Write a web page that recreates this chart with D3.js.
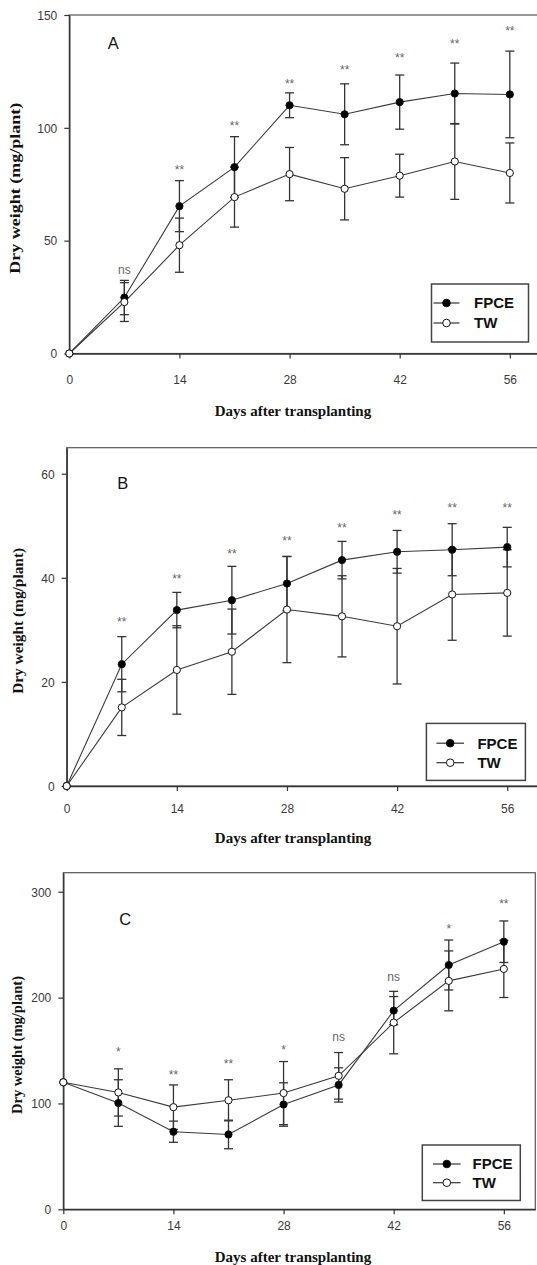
<!DOCTYPE html>
<html>
<head>
<meta charset="utf-8">
<script src="https://cdn.jsdelivr.net/npm/d3@7"></script>
<style>
  body { margin: 0; background: #fff; }
  svg text { font-family: "Liberation Sans", Arial, sans-serif; }
</style>
</head>
<body>
<svg id="chart" width="537" height="1265"></svg>
<script>
// days after transplanting, shared by all three panels
const days = [0, 7, 14, 21, 28, 35, 42, 49, 56];
const xTicks = [0, 14, 28, 42, 56];
const seriesNames = ["FPCE", "TW"];

// Panel A
const fpceA    = [0, 24.8, 65.3, 82.6, 110, 106, 111.4, 115.2, 114.8];
const fpceAErr = [0, 7.6, 11.3, 13.5, 5.5, 13.5, 12, 13.5, 19.2];
const twA      = [0, 22.8, 48, 69.3, 79.5, 73, 78.8, 85.1, 80];
const twAErr   = [0, 8.6, 12, 13.3, 11.8, 13.8, 9.5, 16.8, 13.3];
const sigA     = ["", "ns", "**", "**", "**", "**", "**", "**", "**"];
const sigAAt   = [null, 37, 83, 102.5, 121, 127, 132.5, 138.5, 144.4];
const yTicksA  = [0, 50, 100, 150];

// Panel B
const fpceB    = [0, 23.4, 33.8, 35.7, 38.9, 43.4, 45, 45.4, 45.9];
const fpceBErr = [0, 5.3, 3.4, 6.5, 5.2, 3.6, 4.1, 5, 3.8];
const twB      = [0, 15.1, 22.3, 25.8, 33.9, 32.6, 30.7, 36.8, 37.1];
const twBErr   = [0, 5.4, 8.5, 8.2, 10.2, 7.8, 11.1, 8.8, 8.3];
const sigB     = ["", "**", "**", "**", "**", "**", "**", "**", "**"];
const sigBAt   = [null, 32.2, 40.5, 45.3, 47.7, 50.2, 52.8, 54.1, 54.1];
const yTicksB  = [0, 20, 40, 60];

// Panel C
const fpceC    = [120, 100.4, 73.3, 70.7, 99, 117.5, 187.7, 230.8, 252.8];
const fpceCErr = [0, 22, 10, 13.5, 20.5, 16.2, 13.3, 23.6, 19.6];
const twC      = [120, 110.4, 96.5, 103, 109.8, 126.1, 176.4, 215.8, 227.1];
const twCErr   = [0, 22.3, 21, 19.4, 29.8, 22, 29.5, 28.3, 27];
const sigC     = ["", "*", "**", "**", "*", "ns", "ns", "*", "**"];
const sigCAt   = [null, 151.6, 130.2, 140.3, 153.8, 162.3, 218.9, 268, 291.2];
const yTicksC  = [0, 100, 200, 300];

// layout of each panel (pixels)
const panels = [
  { label: "A", fpce: fpceA, fpceErr: fpceAErr, tw: twA, twErr: twAErr, sig: sigA, sigAt: sigAAt,
    yTicks: yTicksA, yMax: 150, left: 69.3, top: 15, bottom: 353.5,
    letterX: 44, letterY: 28, legend: { x: 431.5, y: 284, w: 97, h: 58, row1: 19, row2: 39, l0: 2, l1: 28, t: 42.5 },
    tickDy: 29, titleDy: 57, yTitleX: 15, yTitleLen: 171 },
  { label: "B", fpce: fpceB, fpceErr: fpceBErr, tw: twB, twErr: twBErr, sig: sigB, sigAt: sigBAt,
    yTicks: yTicksB, yMax: 65, left: 66.7, top: 447.7, bottom: 786,
    letterX: 56, letterY: 35, legend: { x: 426.4, y: 723.4, w: 99, h: 57, row1: 19.8, row2: 39.3, l0: 10, l1: 37.6, t: 51 },
    tickDy: 25, titleDy: 52, yTitleX: 18, yTitleLen: 146 },
  { label: "C", fpce: fpceC, fpceErr: fpceCErr, tw: twC, twErr: twCErr, sig: sigC, sigAt: sigCAt,
    yTicks: yTicksC, yMax: 318, left: 63.3, top: 872.7, bottom: 1209.3,
    letterX: 62, letterY: 46, legend: { x: 422.3, y: 1145, w: 98, h: 55.5, row1: 19, row2: 37.7, l0: 10.7, l1: 38.3, t: 50.3 },
    tickDy: 19, titleDy: 47, yTitleX: 17, yTitleLen: 138 }
];

const plotWidth = 472;
const svg = d3.select("#chart");

function drawPanel(p) {
  const h = p.bottom - p.top;
  const g = svg.append("g").attr("transform", "translate(" + p.left + "," + p.top + ")");

  const x = d3.scaleLinear().domain([0, 60]).range([0, plotWidth]);
  const y = d3.scaleLinear().domain([0, p.yMax]).range([h, 0]);

  // frame (top + right)
  g.append("rect")
    .attr("x", 0).attr("y", 0).attr("width", plotWidth).attr("height", h)
    .attr("fill", "none").attr("stroke", "#555").attr("stroke-width", 1.2);

  // axes
  const xAxis = g.append("g")
    .attr("transform", "translate(0," + h + ")")
    .call(d3.axisBottom(x).tickValues(xTicks).tickSize(5).tickSizeOuter(0).tickPadding(p.tickDy - 12));
  const yAxis = g.append("g")
    .call(d3.axisLeft(y).tickValues(p.yTicks).tickSize(5).tickSizeOuter(0).tickPadding(7));

  [xAxis, yAxis].forEach(ax => {
    ax.select(".domain").attr("stroke", "#333").attr("stroke-width", 1.4);
    ax.selectAll(".tick line").attr("stroke", "#333").attr("stroke-width", 1.2);
    ax.selectAll(".tick text")
      .attr("fill", "#3a3a3a")
      .style("font-size", "12px")
      .style("font-family", "'Liberation Sans', Arial, sans-serif");
  });
  yAxis.selectAll(".tick text").attr("dy", "0.36em");

  const series = [
    { name: "FPCE", v: p.fpce, e: p.fpceErr, fill: "#000" },
    { name: "TW", v: p.tw, e: p.twErr, fill: "#fff" }
  ];

  // error bars
  series.forEach(s => {
    const bars = g.append("g").attr("stroke", "#333").attr("stroke-width", 1.3);
    days.forEach((d, i) => {
      if (!s.e[i]) return;
      const cx = x(d), y0 = y(s.v[i] - s.e[i]), y1 = y(s.v[i] + s.e[i]);
      bars.append("line").attr("x1", cx).attr("x2", cx).attr("y1", y0).attr("y2", y1);
      bars.append("line").attr("x1", cx - 4.5).attr("x2", cx + 4.5).attr("y1", y0).attr("y2", y0);
      bars.append("line").attr("x1", cx - 4.5).attr("x2", cx + 4.5).attr("y1", y1).attr("y2", y1);
    });
  });

  // lines
  const line = d3.line().x((d, i) => x(days[i])).y(d => y(d));
  series.forEach(s => {
    g.append("path")
      .datum(s.v)
      .attr("d", line)
      .attr("fill", "none")
      .attr("stroke", "#3a3a3a")
      .attr("stroke-width", 1.1);
  });

  // markers
  series.forEach(s => {
    g.selectAll(null)
      .data(s.v)
      .enter().append("circle")
      .attr("cx", (d, i) => x(days[i]))
      .attr("cy", d => y(d))
      .attr("r", 3.6)
      .attr("fill", s.fill)
      .attr("stroke", "#111")
      .attr("stroke-width", 1);
  });

  // significance marks
  g.selectAll(null)
    .data(p.sig.map((t, i) => ({ t: t, d: days[i], v: p.sigAt[i] })).filter(o => o.t))
    .enter().append("text")
    .attr("x", o => x(o.d))
    .attr("y", o => y(o.v))
    .attr("dy", o => o.t === "ns" ? "0.3em" : "0.62em")
    .attr("text-anchor", "middle")
    .attr("fill", "#666")
    .style("font-size", "12px")
    .text(o => o.t);

  // panel letter
  g.append("text")
    .attr("x", p.letterX).attr("y", p.letterY)
    .attr("dy", "0.36em")
    .attr("text-anchor", "middle")
    .attr("fill", "#111")
    .style("font-size", "16.5px")
    .text(p.label);

  // axis titles
  g.append("text")
    .attr("x", 293 - p.left)
    .attr("y", h + p.titleDy)
    .attr("dy", "0.35em")
    .attr("text-anchor", "middle")
    .attr("fill", "#111")
    .style("font-family", "'Liberation Serif', 'Times New Roman', serif")
    .style("font-weight", "bold")
    .style("font-size", "15px")
    .text("Days after transplanting");

  svg.append("text")
    .attr("transform", "translate(" + p.yTitleX + "," + (p.top + h / 2 + 4) + ") rotate(-90)")
    .attr("dy", "0.35em")
    .attr("text-anchor", "middle")
    .attr("textLength", p.yTitleLen)
    .attr("lengthAdjust", "spacingAndGlyphs")
    .attr("fill", "#111")
    .style("font-family", "'Liberation Serif', 'Times New Roman', serif")
    .style("font-weight", "bold")
    .style("font-size", "15px")
    .text("Dry weight (mg/plant)");

  // legend
  const L = p.legend;
  const leg = svg.append("g").attr("transform", "translate(" + L.x + "," + L.y + ")");
  leg.append("rect")
    .attr("width", L.w).attr("height", L.h)
    .attr("fill", "#fff").attr("stroke", "#444").attr("stroke-width", 1.5);
  [L.row1, L.row2].forEach((ry, i) => {
    const s = series[i];
    leg.append("line")
      .attr("x1", L.l0).attr("x2", L.l1).attr("y1", ry).attr("y2", ry)
      .attr("stroke", "#333").attr("stroke-width", 1.2);
    leg.append("circle")
      .attr("cx", (L.l0 + L.l1) / 2).attr("cy", ry).attr("r", 3.8)
      .attr("fill", s.fill).attr("stroke", "#111").attr("stroke-width", 1);
    leg.append("text")
      .attr("x", L.t).attr("y", ry).attr("dy", "0.36em")
      .attr("fill", "#111")
      .style("font-weight", "bold")
      .style("font-size", "15px")
      .text(seriesNames[i]);
  });
}

panels.forEach(drawPanel);
</script>
</body>
</html>
